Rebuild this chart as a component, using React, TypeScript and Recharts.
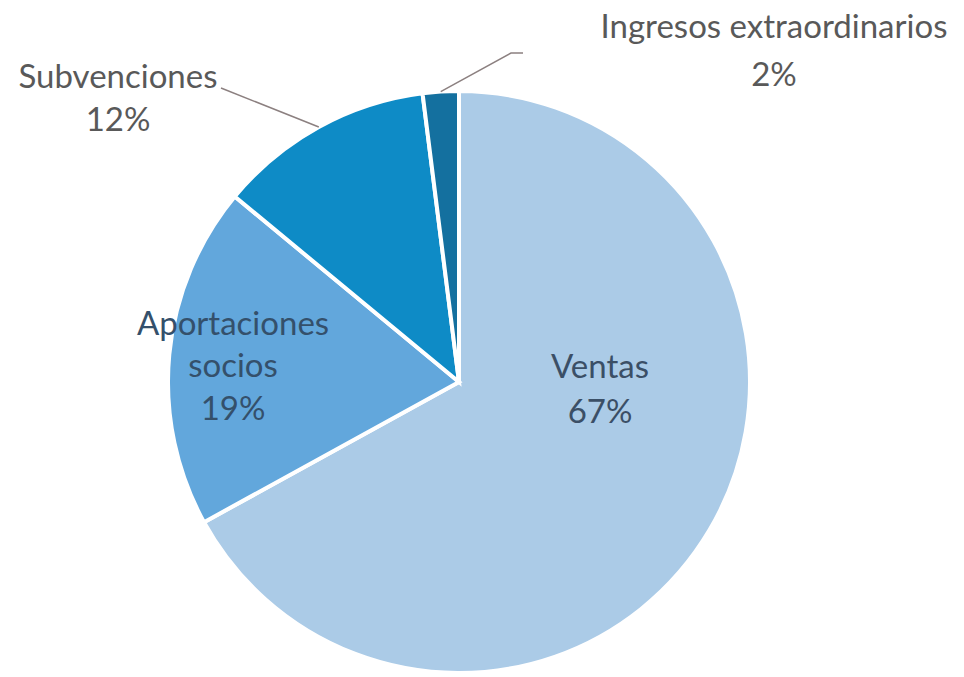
import { PieChart, Pie, Cell } from 'recharts'

const categories = ['Ventas', 'Aportaciones socios', 'Subvenciones', 'Ingresos extraordinarios']
const shares = [67, 19, 12, 2]
const colors = ['#abcbe7', '#62a7dc', '#0e8bc6', '#14709f']

const data = categories.map((name, i) => ({ name, value: shares[i] }))

const RAD = Math.PI / 180
const FONT = 33

// label placement per slice (inside ones are dark blue, outside ones grey with a leader line)
function renderLabel(props: any) {
  const { cx, cy, midAngle, outerRadius, index, name, value } = props
  const cos = Math.cos(-midAngle * RAD)
  const sin = Math.sin(-midAngle * RAD)
  const pct = `${value}%`

  if (index === 0) {
    const x = cx + 141
    const y = cy - 4
    return (
      <text x={x} y={y} textAnchor="middle" fill="#3b4f66" fontSize={FONT} fontFamily="Lato">
        <tspan x={x} dy={0}>Ventas</tspan>
        <tspan x={x} dy={45}>{pct}</tspan>
      </text>
    )
  }
  if (index === 1) {
    const x = cx - 226
    const y = cy - 47
    return (
      <text x={x} y={y} textAnchor="middle" fill="#34506b" fontSize={FONT} fontFamily="Lato">
        <tspan x={x} dy={0}>Aportaciones</tspan>
        <tspan x={x} dy={42}>socios</tspan>
        <tspan x={x} dy={43}>{pct}</tspan>
      </text>
    )
  }

  const ex = cx + outerRadius * cos
  const ey = cy + outerRadius * sin
  if (index === 2) {
    return (
      <g>
        <polyline points={`${ex},${ey} ${cx - 238},${cy - 294}`} fill="none" stroke="#8c8080" strokeWidth={1.5} />
        <text x={cx - 341} y={cy - 294} textAnchor="middle" fill="#595959" fontSize={FONT} fontFamily="Lato">
          <tspan x={cx - 341} dy={0}>Subvenciones</tspan>
          <tspan x={cx - 341} dy={43}>{pct}</tspan>
        </text>
      </g>
    )
  }
  return (
    <g>
      <polyline
        points={`${ex},${ey} ${cx + 52},${cy - 329} ${cx + 64},${cy - 329}`}
        fill="none"
        stroke="#8c8080"
        strokeWidth={1.5}
      />
      <text x={cx + 315} y={cy - 344} textAnchor="middle" fill="#595959" fontSize={FONT} fontFamily="Lato">
        <tspan x={cx + 315} dy={0}>{name}</tspan>
        <tspan x={cx + 315} dy={48}>{pct}</tspan>
      </text>
    </g>
  )
}

export default function App() {
  return (
    <div style={{ position: 'absolute', left: 0, top: 0, background: '#fff' }}>
      <PieChart width={964} height={677} margin={{ top: 0, right: 0, bottom: 0, left: 0 }}>
        <Pie
          data={data}
          dataKey="value"
          nameKey="name"
          cx={459}
          cy={382}
          outerRadius={291}
          startAngle={90}
          endAngle={-270}
          stroke="#ffffff"
          strokeWidth={4}
          label={renderLabel}
          labelLine={false}
          isAnimationActive={false}
        >
          {data.map((d, i) => (
            <Cell key={d.name} fill={colors[i]} />
          ))}
        </Pie>
      </PieChart>
    </div>
  )
}
